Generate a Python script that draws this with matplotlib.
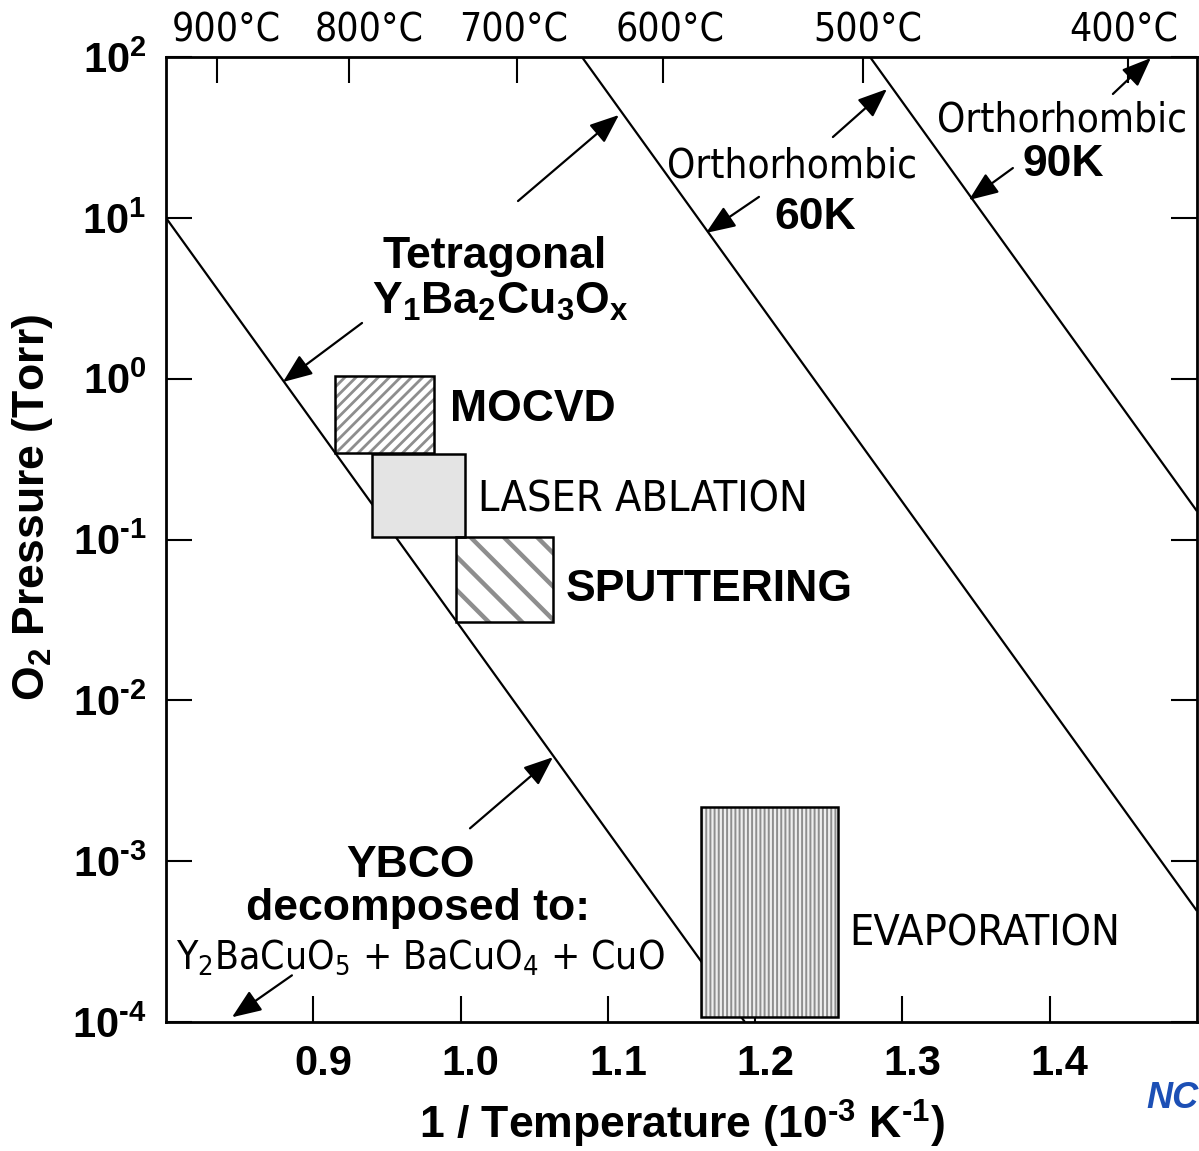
import matplotlib
matplotlib.use("Agg")
import matplotlib.pyplot as plt
from matplotlib import font_manager as fm
from matplotlib.patches import Rectangle
from matplotlib.transforms import ScaledTranslation

# ---- phase boundaries (log P is linear in 1000/T) ----
decomp_x = [0.800, 1.193]          # YBCO decomposition line
decomp_p = [1e1, 1e-4]
tetra_x = [1.0824, 1.500]          # tetragonal / orthorhombic (60 K)
tetra_p = [1e2, 4.9e-4]
ortho_x = [1.278, 1.500]           # orthorhombic 60 K / 90 K
ortho_p = [1e2, 0.15]

# ---- deposition windows ----
methods = ["MOCVD", "LASER ABLATION", "SPUTTERING", "EVAPORATION"]
win_x0 = [0.915, 0.940, 0.997, 1.163]
win_x1 = [0.982, 1.003, 1.063, 1.256]
win_plo = [0.346, 0.104, 0.0305, 1.08e-4]
win_phi = [1.04, 0.338, 0.1035, 2.18e-3]

# ---- axes ----
HY = "\u2010"  # short hyphen used in exponents
x_ticks = [0.9, 1.0, 1.1, 1.2, 1.3, 1.4]
x_ticklabels = ["0.9", "1.0", "1.1", "1.2", "1.3", "1.4"]
y_ticks = [1e-4, 1e-3, 1e-2, 1e-1, 1e0, 1e1, 1e2]
y_ticklabels = ["10$^{%s4}$" % HY, "10$^{%s3}$" % HY, "10$^{%s2}$" % HY,
                "10$^{%s1}$" % HY, "10$^{0}$", "10$^{1}$", "10$^{2}$"]
celsius_ticks = [0.8346, 0.9242, 1.0383, 1.1374, 1.2731, 1.4531]
celsius_label_x = [0.8407, 0.9378, 1.0363, 1.1422, 1.2766, 1.4504]
celsius_labels = ["900°C", "800°C", "700°C", "600°C", "500°C", "400°C"]

# ---- fonts ----
names = {f.name for f in fm.fontManager.ttflist}
condensed_dejavu = any(f.name == "DejaVu Sans" and f.stretch == "condensed"
                       for f in fm.fontManager.ttflist)
if "Liberation Sans Narrow" in names:
    NARROW = dict(family="Liberation Sans Narrow")
elif condensed_dejavu:
    NARROW = dict(family="DejaVu Sans", stretch="condensed")
elif "Roboto Condensed" in names:
    NARROW = dict(family="Roboto Condensed")
else:
    NARROW = dict(family="Liberation Sans")
BOLD = dict(family="Liberation Sans", weight="bold")

plt.rcParams["mathtext.default"] = "regular"
plt.rcParams["axes.linewidth"] = 2.0

fig = plt.figure(figsize=(11.99, 11.51), dpi=100)
ax = fig.add_axes([166 / 1199, 1 - 1022 / 1151, 1031 / 1199, 965 / 1151])
ax.set_yscale("log")
ax.set_xlim(0.8, 1.5)
ax.set_ylim(1e-4, 1e2)

# phase boundary lines
for xs, ps in [(decomp_x, decomp_p), (tetra_x, tetra_p), (ortho_x, ortho_p)]:
    ax.plot(xs, ps, color="black", lw=1.6, zorder=2, solid_capstyle="butt")

# deposition windows
hatches = ["///", None, "\\", "||||"]
faces = ["white", "#e4e4e4", "white", "#eeeeee"]
hatch_lw = [2.0, 1.0, 3.2, 1.4]
for i in range(len(methods)):
    w = win_x1[i] - win_x0[i]
    h = win_phi[i] - win_plo[i]
    with plt.rc_context({"hatch.linewidth": hatch_lw[i]}):
        fill = Rectangle((win_x0[i], win_plo[i]), w, h, facecolor=faces[i],
                         edgecolor="#8e8e8e", lw=0, hatch=hatches[i], zorder=3)
        if hasattr(fill, "set_hatch_linewidth"):
            fill.set_hatch_linewidth(hatch_lw[i])
        ax.add_patch(fill)
    ax.add_patch(Rectangle((win_x0[i], win_plo[i]), w, h, fill=False,
                           edgecolor="black", lw=1.8, zorder=4))

# ticks
ax.set_xticks(x_ticks)
ax.set_xticklabels(x_ticklabels, fontsize=30, **BOLD)
ax.set_yticks(y_ticks)
ax.set_yticklabels(y_ticklabels, fontsize=30, **BOLD)
ax.minorticks_off()
ax.tick_params(axis="x", direction="in", length=19, width=1.5, pad=16,
               top=False, bottom=True)
ax.tick_params(axis="y", direction="in", length=19, width=1.5, pad=14,
               left=True, right=True)
shift = ScaledTranslation(10 / 100, 0, fig.dpi_scale_trans)
for lab in ax.get_xticklabels():
    lab.set_transform(lab.get_transform() + shift)

# Celsius scale along the top
top = ax.twiny()
top.set_xlim(ax.get_xlim())
top.set_xticks(celsius_ticks)
top.set_xticklabels([])
top.tick_params(axis="x", direction="in", length=19, width=1.5)
top.minorticks_off()
for s in top.spines.values():
    s.set_visible(False)
lift = ScaledTranslation(0, 15 / 100, fig.dpi_scale_trans)
for xc, lab in zip(celsius_label_x, celsius_labels):
    ax.text(xc, 1.0, lab, transform=ax.get_xaxis_transform() + lift,
            ha="center", va="baseline", fontsize=28, **NARROW)

fig.text(33 / 1199, 1 - 507 / 1151, "O$_2$ Pressure (Torr)", rotation=90,
         ha="center", va="center", fontsize=32, **BOLD)
ax.set_xlabel("1 / Temperature (10$^{%s3}$ K$^{%s1}$)" % (HY, HY), fontsize=32,
              labelpad=10, **BOLD)

# region labels
def label(x, y, s, font, size, ha="left"):
    ax.text(x, y, s, ha=ha, va="baseline", fontsize=size, zorder=5, **font)

label(1.0234, 4.87, "Tetragonal", BOLD, 32, "center")
label(1.0268, 2.52, "Y$_1$Ba$_2$Cu$_3$O$_x$", BOLD, 32, "center")
label(0.9928, 0.545, methods[0], BOLD, 32)
label(1.0118, 0.150, methods[1], NARROW, 31)
label(1.0716, 0.0414, methods[2], BOLD, 32)
label(1.2637, 3.0e-4, methods[3], NARROW, 31)
label(1.225, 17.9, "Orthorhombic", NARROW, 29, "center")
label(1.2406, 8.52, "60K", BOLD, 32, "center")
label(1.4083, 34.2, "Orthorhombic", NARROW, 29, "center")
label(1.409, 18.2, "90K", BOLD, 32, "center")
label(0.9657, 7.95e-4, "YBCO", BOLD, 32, "center")
label(0.9711, 4.30e-4, "decomposed to:", BOLD, 32, "center")
label(0.9724, 2.16e-4, "Y$_2$BaCuO$_5$ + BaCuO$_4$ + CuO", NARROW, 28, "center")

# pointer arrows: (tail, tip)
arrows = [
    ((0.9331, 2.22), (0.8794, 0.953)),
    ((1.0390, 12.72), (1.1075, 43.6)),
    ((1.2026, 13.5), (1.1666, 8.05)),
    ((1.2528, 31.8), (1.2895, 63.2)),
    ((1.3750, 20.4), (1.3451, 12.9)),
    ((1.4429, 58.9), (1.4687, 98.6)),
    ((1.0064, 1.60e-3), (1.0627, 4.43e-3)),
    ((0.8855, 1.95e-4), (0.8448, 1.07e-4)),
]
for tail, tip in arrows:
    ax.annotate("", xy=tip, xytext=tail, zorder=6, annotation_clip=False,
                arrowprops=dict(arrowstyle="-|>,head_length=0.6,head_width=0.24",
                                mutation_scale=30, lw=1.6, color="black",
                                shrinkA=0, shrinkB=0))

fig.text(1146 / 1199, 1 - 1108 / 1151, "NC", color="#1c4fb5", fontsize=26,
         style="italic", weight="bold", family="Liberation Sans")

fig.savefig("out.png", dpi=100)
